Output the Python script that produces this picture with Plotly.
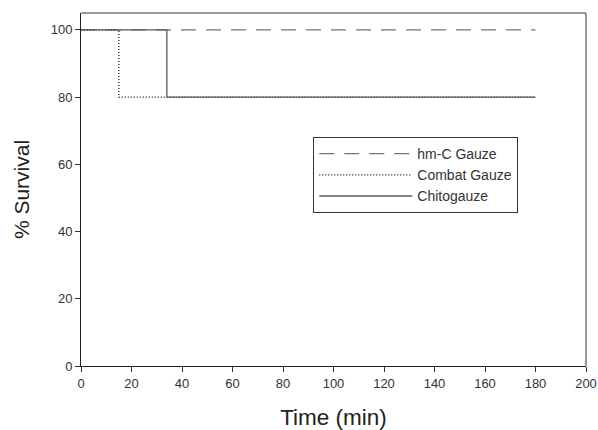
import plotly.graph_objects as go

names = ["hm-C Gauze", "Combat Gauze", "Chitogauze"]
hmc_time = [0, 180]
hmc_surv = [100, 100]
combat_time = [0, 15, 180]
combat_surv = [100, 80, 80]
chito_time = [0, 34, 180]
chito_surv = [100, 80, 80]
x_ticks = list(range(0, 201, 20))
y_ticks = list(range(0, 101, 20))

fig = go.Figure()
fig.add_trace(go.Scatter(x=hmc_time, y=hmc_surv, mode="lines", name=names[0], line_shape="hv",
                         line=dict(color="#767676", width=1.3, dash="15px,10px")))
fig.add_trace(go.Scatter(x=combat_time, y=combat_surv, mode="lines", name=names[1], line_shape="hv",
                         line=dict(color="#111111", width=1.2, dash="1px,2px")))
fig.add_trace(go.Scatter(x=chito_time, y=chito_surv, mode="lines", name=names[2], line_shape="hv",
                         line=dict(color="#5a5a5a", width=1.3)))

fig.update_layout(
    width=598, height=430,
    margin=dict(l=80.5, r=12, t=13, b=64, autoexpand=False),
    plot_bgcolor="white", paper_bgcolor="white",
    font=dict(family="Liberation Sans, Arial", color="#222222"),
    showlegend=True,
    legend=dict(x=0.460, y=0.6487, xanchor="left", yanchor="top",
                bordercolor="#333333", borderwidth=1, bgcolor="white",
                font=dict(size=14, color="#333333"), itemwidth=93, tracegroupgap=0),
    shapes=[
        dict(type="line", xref="paper", yref="paper", x0=0, x1=1, y0=1, y1=1,
             line=dict(color="#777777", width=1.5)),
        dict(type="line", xref="paper", yref="paper", x0=1, x1=1, y0=0, y1=1,
             line=dict(color="#777777", width=1.5)),
    ],
)
fig.update_xaxes(range=[0, 200], tickvals=x_ticks, ticks="outside", ticklen=5, automargin=False,
                 tickcolor="#333333", showline=True, linecolor="#222222", linewidth=1,
                 showgrid=False, zeroline=False, tickfont=dict(size=13, color="#333333"),
                 title=dict(text="Time (min)", font=dict(size=22.5), standoff=21))
fig.update_yaxes(range=[0, 105], tickvals=y_ticks, ticks="outside", ticklen=5, automargin=False,
                 tickcolor="#333333", showline=True, linecolor="#222222", linewidth=1,
                 showgrid=False, zeroline=False, tickfont=dict(size=13, color="#333333"),
                 title=dict(text="% Survival", font=dict(size=21), standoff=15))

fig.write_html("out.html", config={"displayModeBar": False},
               post_script="document.body.style.margin='0';")
